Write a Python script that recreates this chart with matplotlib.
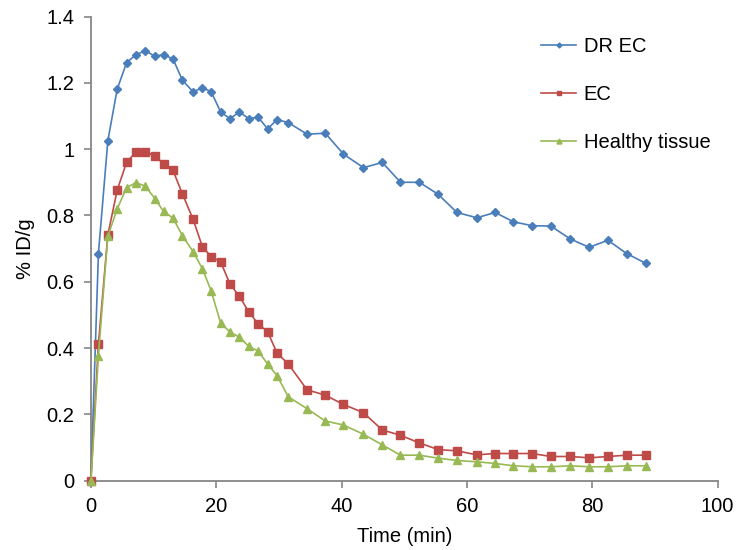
import matplotlib
matplotlib.use("Agg")
import matplotlib.pyplot as plt
from matplotlib.ticker import FuncFormatter

time_min = [0, 1.2, 2.7, 4.2, 5.7, 7.2, 8.7, 10.2, 11.6, 13.1, 14.6, 16.3, 17.8, 19.2,
            20.7, 22.2, 23.7, 25.2, 26.7, 28.2, 29.7, 31.5, 34.5, 37.4, 40.3, 43.5,
            46.5, 49.4, 52.4, 55.4, 58.4, 61.6, 64.5, 67.4, 70.4, 73.4, 76.5, 79.5,
            82.5, 85.5, 88.5]

dr_ec = [0, 0.685, 1.025, 1.181, 1.261, 1.285, 1.297, 1.280, 1.285, 1.272, 1.208,
         1.173, 1.185, 1.173, 1.112, 1.092, 1.112, 1.092, 1.096, 1.061, 1.089, 1.080,
         1.045, 1.048, 0.985, 0.944, 0.960, 0.900, 0.900, 0.864, 0.809, 0.793, 0.809,
         0.781, 0.769, 0.768, 0.729, 0.704, 0.725, 0.685, 0.656]

ec = [0, 0.412, 0.741, 0.877, 0.960, 0.992, 0.992, 0.979, 0.956, 0.936, 0.865, 0.789,
      0.705, 0.676, 0.660, 0.593, 0.556, 0.509, 0.473, 0.449, 0.385, 0.352, 0.274,
      0.258, 0.230, 0.205, 0.153, 0.137, 0.114, 0.094, 0.090, 0.078, 0.082, 0.082,
      0.082, 0.073, 0.073, 0.069, 0.073, 0.077, 0.077]

healthy = [0, 0.377, 0.737, 0.820, 0.884, 0.899, 0.888, 0.851, 0.812, 0.792, 0.739,
           0.691, 0.639, 0.572, 0.476, 0.448, 0.433, 0.405, 0.391, 0.352, 0.317, 0.253,
           0.217, 0.180, 0.168, 0.140, 0.108, 0.077, 0.077, 0.068, 0.061, 0.057, 0.052,
           0.045, 0.042, 0.042, 0.045, 0.042, 0.042, 0.045, 0.045]

plt.rcParams['font.family'] = ['Liberation Sans', 'DejaVu Sans']
plt.rcParams['font.size'] = 14.5

fig = plt.figure(figsize=(7.39, 5.5), dpi=100)
ax = fig.add_axes([0.123, 0.126, 0.848, 0.844])

ax.plot(time_min, dr_ec, color='#4A7EBB', lw=1.2, marker='D', ms=4.2,
        label='DR EC', zorder=3, clip_on=False)
ax.plot(time_min, ec, color='#BE4B48', lw=1.2, marker='s', ms=5.5,
        label='EC', zorder=4, clip_on=False)
ax.plot(time_min, healthy, color='#98B954', lw=1.2, marker='^', ms=6,
        label='Healthy tissue', zorder=5, clip_on=False)

ax.set_xlim(0, 100)
ax.set_ylim(0, 1.4)
ax.set_xticks(range(0, 101, 20))
ax.set_yticks([0, 0.2, 0.4, 0.6, 0.8, 1.0, 1.2, 1.4])
ax.yaxis.set_major_formatter(FuncFormatter(lambda v, p: '%g' % round(v, 1)))

for s in ['top', 'right']:
    ax.spines[s].set_visible(False)
for s in ['left', 'bottom']:
    ax.spines[s].set_color('#868686')
    ax.spines[s].set_linewidth(1.3)
ax.tick_params(direction='out', length=5, width=1.2, color='#868686', pad=7)

ax.set_xlabel('Time (min)', labelpad=8)
ax.set_ylabel('% ID/g', labelpad=8)

leg = ax.legend(loc='upper left', bbox_to_anchor=(0.69, 0.995), frameon=False,
                handlelength=1.7, labelspacing=1.45, markerscale=0.6,
                handletextpad=0.4)

fig.savefig('out.png', dpi=100)
